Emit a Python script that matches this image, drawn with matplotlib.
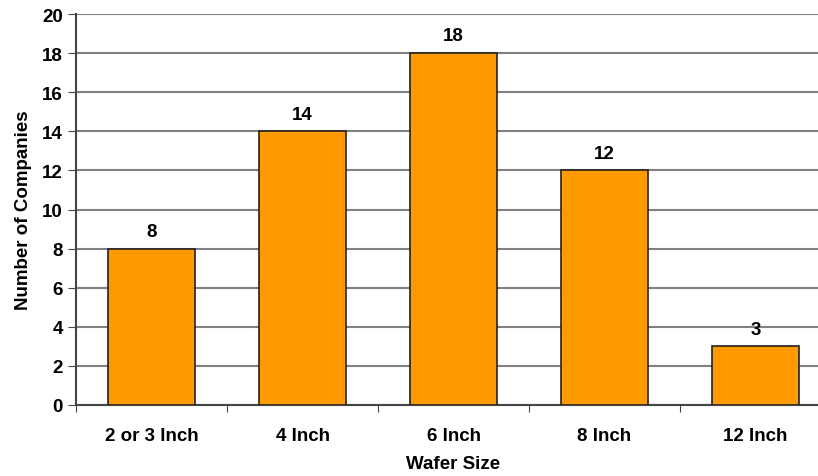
import matplotlib.pyplot as plt

sizes = ['2 or 3 Inch', '4 Inch', '6 Inch', '8 Inch', '12 Inch']
companies = [8, 14, 18, 12, 3]

plt.rcParams['font.family'] = ['Liberation Sans', 'DejaVu Sans']
plt.rcParams['font.weight'] = 'bold'

fig = plt.figure(figsize=(8.18, 4.77), dpi=100)
ax = fig.add_axes([76/818, 1-406/477, 755/818, 391/477])

x = list(range(len(sizes)))
bars = ax.bar(x, companies, width=0.58, color='#FF9900', edgecolor='#222222', linewidth=1.2, zorder=3)
for xi, v in zip(x, companies):
    ax.text(xi, v + 0.45, str(v), ha='center', va='bottom', fontsize=13.5, fontweight='bold')

ax.set_xlim(-0.5, 4.5)
ax.set_ylim(0, 20)
ax.set_yticks(range(0, 21, 2))
ax.yaxis.grid(True, color='#808080', linewidth=1.5, zorder=0)
ax.set_xticks([i + 0.5 for i in range(-1, 5)])
ax.set_xticklabels([])
ax.set_xticks(x, minor=True)
ax.set_xticklabels(sizes, minor=True, fontsize=13.5, fontweight='bold')
ax.tick_params(axis='x', which='minor', length=0, pad=16)
ax.tick_params(axis='x', which='major', length=5, color='#444444')
ax.tick_params(axis='y', length=6, color='#444444', labelsize=13.5)
for s in ['top', 'right']:
    ax.spines[s].set_visible(False)
ax.spines['left'].set_color('#444444')
ax.spines['bottom'].set_color('#444444')
ax.spines['left'].set_linewidth(1.5)
ax.spines['bottom'].set_linewidth(1.5)

ax.set_xlabel('Wafer Size', fontsize=13.5, fontweight='bold', labelpad=8)
ax.set_ylabel('Number of Companies', fontsize=13.5, fontweight='bold', labelpad=7)

fig.savefig('out.png', dpi=100)
